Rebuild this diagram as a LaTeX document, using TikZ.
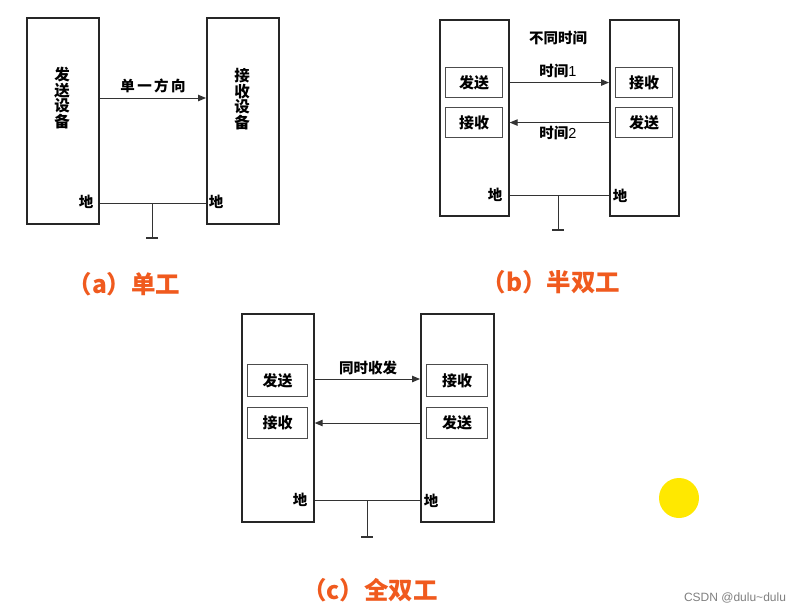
\documentclass[tikz,border=0pt]{standalone}
\usepackage{fontspec}
\setmainfont{Noto Sans CJK SC}
\newfontfamily\wmfont{Liberation Sans}
\usetikzlibrary{arrows.meta}
\definecolor{capcol}{HTML}{F05A1E}
\definecolor{linecol}{HTML}{333333}
\definecolor{sun}{HTML}{FFE800}
\tikzset{
  outerbox/.style={draw=black!85, line width=1.7pt, anchor=north west, inner sep=0pt},
  innerbox/.style={draw=black!70, line width=1.1pt, anchor=north west, inner sep=0pt, font=\fontsize{15}{16}\selectfont\bfseries},
  lbl/.style={inner sep=0pt, font=\fontsize{14.5}{16}\selectfont\bfseries},
  vtext/.style={inner sep=0pt, align=center, font=\fontsize{15.5}{15.5}\selectfont\bfseries},
  captxt/.style={inner sep=0pt, text=capcol, font=\fontsize{24.5}{28}\selectfont\bfseries},
  wire/.style={draw=linecol, line width=1pt},
  arr/.style={wire, -{Triangle[length=8pt,width=6.5pt]}},
  gcap/.style={draw=linecol, line width=1.6pt}
}
\begin{document}
\begin{tikzpicture}[x=1pt,y=-1pt]
\useasboundingbox (0,0) rectangle (810,614);
\fill[white] (0,0) rectangle (810,614);

% ---------- (a) simplex ----------
\node[outerbox, minimum width=72pt, minimum height=206pt] (aL) at (26,17) {};
\node[outerbox, minimum width=72pt, minimum height=206pt] (aR) at (206,17) {};
\node[vtext] (aLt) at (62,98) {发\\送\\设\\备};
\node[vtext] (aRt) at (242,99) {接\\收\\设\\备};
\coordinate (aa) at (152,98);
\draw[arr] (aL.east |- aa) -- (aR.west |- aa);
\node[lbl] (aAl) at (153,86) {单\,一\,方\,向};
\node[lbl] (aG1) at (86,202) {地};
\node[lbl] (aG2) at (216,202) {地};
\coordinate (ag) at (152,203);
\draw[wire] (aL.east |- ag) -- (aR.west |- ag);
\coordinate (agb) at (152,238);
\draw[wire] (ag) -- (agb);
\draw[gcap] ([xshift=-6pt]agb) -- ([xshift=6pt]agb);
\node[captxt] (aCap) at (124,284) {（a）单工};

% ---------- (b) half duplex ----------
\node[outerbox, minimum width=69pt, minimum height=196pt] (bL) at (439,19) {};
\node[outerbox, minimum width=69pt, minimum height=196pt] (bR) at (609,19) {};
\node[innerbox, minimum width=57pt, minimum height=30pt] (bLS) at (445,67) {发送};
\node[innerbox, minimum width=57pt, minimum height=30pt] (bLR) at (445,107) {接收};
\node[innerbox, minimum width=57pt, minimum height=30pt] (bRR) at (615,67) {接收};
\node[innerbox, minimum width=57pt, minimum height=30pt] (bRS) at (615,107) {发送};
\draw[arr] (bL.east |- bLS) -- (bR.west |- bLS);
\draw[arr] (bR.west |- bRS) -- (bL.east |- bRS);
\node[lbl] (bT) at (558,38) {不同时间};
\node[lbl] (bT1) at (558,71) {时间\fontspec{Liberation Sans}\mdseries 1};
\node[lbl] (bT2) at (558,133) {时间\fontspec{Liberation Sans}\mdseries 2};
\node[lbl] (bG1) at (495,195) {地};
\node[lbl] (bG2) at (620,196) {地};
\coordinate (bg) at (558,195);
\draw[wire] (bL.east |- bg) -- (bR.west |- bg);
\coordinate (bgb) at (558,230);
\draw[wire] (bg) -- (bgb);
\draw[gcap] ([xshift=-6pt]bgb) -- ([xshift=6pt]bgb);
\node[captxt] (bCap) at (551,282) {（b）半双工};

% ---------- (c) full duplex ----------
\node[outerbox, minimum width=72pt, minimum height=208pt] (cL) at (241,313) {};
\node[outerbox, minimum width=73pt, minimum height=208pt] (cR) at (420,313) {};
\node[innerbox, minimum width=60pt, minimum height=32pt] (cLS) at (247,364) {发送};
\node[innerbox, minimum width=60pt, minimum height=31pt] (cLR) at (247,407) {接收};
\node[innerbox, minimum width=61pt, minimum height=32pt] (cRR) at (426,364) {接收};
\node[innerbox, minimum width=61pt, minimum height=31pt] (cRS) at (426,407) {发送};
\coordinate (ca1) at (367,379);
\coordinate (ca2) at (367,423);
\draw[arr] (cL.east |- ca1) -- (cR.west |- ca1);
\draw[arr] (cR.west |- ca2) -- (cL.east |- ca2);
\node[lbl] (cT) at (368,368) {同时收发};
\node[lbl] (cG1) at (300,500) {地};
\node[lbl] (cG2) at (431,501) {地};
\coordinate (cg) at (367,500);
\draw[wire] (cL.east |- cg) -- (cR.west |- cg);
\coordinate (cgb) at (367,537);
\draw[wire] (cg) -- (cgb);
\draw[gcap] ([xshift=-6pt]cgb) -- ([xshift=6pt]cgb);
\node[captxt] (cCap) at (370,590) {（c）全双工};

% ---------- extras ----------
\fill[sun] (679,498) circle (20pt);
\node[inner sep=0pt, text=black!50, font=\wmfont\fontsize{12}{14}\selectfont] (wm) at (735,598) {CSDN @dulu\textasciitilde dulu};
\end{tikzpicture}
\end{document}
